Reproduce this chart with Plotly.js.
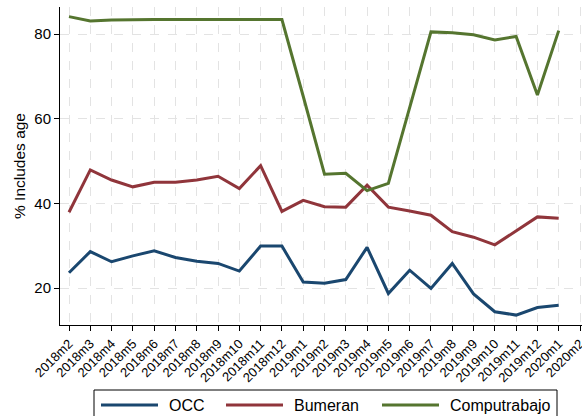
<!DOCTYPE html>
<html><head><meta charset="utf-8">
<script src="https://cdn.plot.ly/plotly-3.0.1.min.js"></script>
<style>html,body{margin:0;padding:0;background:#fff}#c{width:582px;height:416px}</style>
</head><body><div id="c"></div>
<script>
const months = ["2018m2","2018m3","2018m4","2018m5","2018m6","2018m7","2018m8","2018m9","2018m10","2018m11","2018m12",
"2019m1","2019m2","2019m3","2019m4","2019m5","2019m6","2019m7","2019m8","2019m9","2019m10","2019m11","2019m12","2020m1","2020m2"];
const dataMonths = months.slice(0, 24);
const occ = [23.6,28.6,26.2,27.6,28.8,27.2,26.3,25.8,24.0,29.9,29.9,21.4,21.1,22.0,29.6,18.7,24.2,19.9,25.8,18.6,14.4,13.6,15.4,15.9];
const bumeran = [37.9,47.9,45.5,43.9,45.0,45.0,45.5,46.4,43.5,48.9,38.1,40.7,39.2,39.1,44.3,39.1,38.2,37.2,33.3,32.0,30.2,33.5,36.8,36.5];
const computrabajo = [84.1,83.1,83.3,83.4,83.4,83.4,83.4,83.4,83.4,83.4,83.4,65.3,46.9,47.1,43.0,44.7,62.8,80.5,80.3,79.8,78.6,79.4,65.6,80.8];
const names = ["OCC","Bumeran","Computrabajo"];
const colors = ["#1a476f","#90353b","#55752f"];
const series = [occ, bumeran, computrabajo];

const traces = series.map((s,i)=>({
  x: dataMonths, y: s, type:"scatter", mode:"lines", name: names[i],
  line:{color:colors[i], width:3}
}));

// plot area in pixels: x 60..582, y 7..325
const PL=60, PW=522, PT=7, PH=318;
const px = v => (v-PL)/PW;
const py = v => (PT+PH-v)/PH;

// manual legend (Stata-style long line samples)
const legLineStart = [101, 226, 382];
const legLineLen = 57;
const shapes = [{type:"rect", xref:"paper", yref:"paper", x0:px(94), x1:px(557), y0:py(390), y1:py(425),
  line:{color:"#000", width:1}, fillcolor:"rgba(0,0,0,0)"}];
const annotations = [];
names.forEach((n,i)=>{
  shapes.push({type:"line", xref:"paper", yref:"paper", x0:px(legLineStart[i]), x1:px(legLineStart[i]+legLineLen),
    y0:py(405), y1:py(405), line:{color:colors[i], width:3}});
  annotations.push({xref:"paper", yref:"paper", x:px(legLineStart[i]+legLineLen+9), y:py(405),
    xanchor:"left", yanchor:"middle", text:n, showarrow:false, font:{size:16, color:"#000"}});
});

const layout = {
  width:582, height:416,
  margin:{l:60, r:0, t:7, b:91},
  paper_bgcolor:"#fff", plot_bgcolor:"#fff",
  font:{family:"Liberation Sans, Arial, sans-serif", color:"#000"},
  showlegend:false,
  shapes:shapes, annotations:annotations,
  xaxis:{type:"category", categoryorder:"array", categoryarray:months,
    range:[-0.4227, 24.094], tickangle:-45, tickfont:{size:13}, automargin:false,
    showgrid:true, gridcolor:"#e3e3e3", griddash:"dash", gridwidth:1,
    showline:true, linecolor:"#000", linewidth:1, ticks:"outside", ticklen:5, tickcolor:"#000",
    zeroline:false, fixedrange:true},
  yaxis:{range:[11.26, 86.38], tickvals:[20,40,60,80], tickfont:{size:15}, automargin:false,
    showgrid:true, gridcolor:"#e3e3e3", griddash:"dash", gridwidth:1,
    showline:true, linecolor:"#000", linewidth:1, ticks:"outside", ticklen:5, tickcolor:"#000",
    zeroline:false,
    title:{text:"% Includes age", font:{size:15.5}, standoff:4}}
};
Plotly.newPlot("c", traces, layout, {displayModeBar:false, staticPlot:true});
</script></body></html>
